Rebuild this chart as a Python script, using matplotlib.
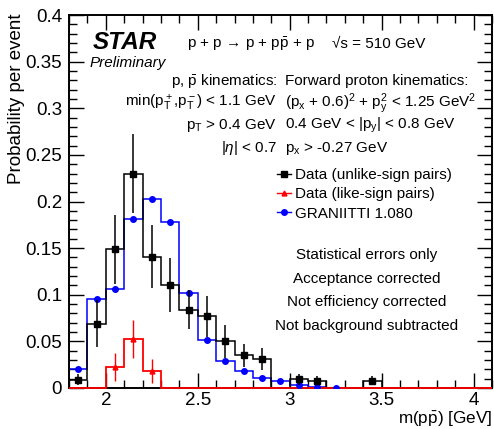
import numpy as np
import matplotlib
matplotlib.use("Agg")
import matplotlib.pyplot as plt
from matplotlib.lines import Line2D

plt.rcParams['font.family'] = ['Liberation Sans', 'DejaVu Sans']
plt.rcParams['mathtext.fontset'] = 'custom'
plt.rcParams['mathtext.rm'] = 'Liberation Sans'
plt.rcParams['mathtext.it'] = 'Liberation Sans:italic'
plt.rcParams['mathtext.bf'] = 'Liberation Sans:bold'

# binning: 0.1 GeV bins from 1.8 to 4.1
bin_edges = [1.8, 1.9, 2.0, 2.1, 2.2, 2.3, 2.4, 2.5, 2.6, 2.7, 2.8, 2.9, 3.0,
             3.1, 3.2, 3.3, 3.4, 3.5, 3.6, 3.7, 3.8, 3.9, 4.0, 4.1]

# data, unlike-sign pairs
unlike_vals = [0.009, 0.069, 0.149, 0.230, 0.141, 0.110, 0.084, 0.077, 0.050,
               0.035, 0.031, 0.0, 0.0095, 0.0078, 0.0, 0.0, 0.0078, 0.0, 0.0,
               0.0, 0.0, 0.0, 0.0]
unlike_errs = [0.006, 0.025, 0.037, 0.042, 0.034, 0.029, 0.021, 0.022, 0.018,
               0.012, 0.012, 0.0, 0.006, 0.005, 0.0, 0.0, 0.005, 0.0, 0.0,
               0.0, 0.0, 0.0, 0.0]

# data, like-sign pairs
like_vals = [0.0, 0.0, 0.022, 0.0525, 0.018] + [0.0] * 18
like_errs = [0.0, 0.0, 0.015, 0.020, 0.013] + [0.0] * 18

# GRANIITTI 1.080
gran_vals = [0.020, 0.095, 0.106, 0.181, 0.2025, 0.178, 0.102, 0.051, 0.029,
             0.018, 0.011, 0.007, 0.003, 0.001, 0.0003] + [0.0] * 8

edges = np.array(bin_edges)
centers = 0.5 * (edges[:-1] + edges[1:])

fig = plt.figure(figsize=(4.94, 4.29), dpi=100)
ax = fig.add_axes([69 / 494, 1 - 388 / 429, 423 / 494, 373 / 429])

# helpers to place text in axes fraction from picture pixel positions
def fx(x):
    return (x - 69) / 423.0

def fy(y):
    return (388 - y) / 373.0

blue = '#0000ff'
red = '#ff0000'

ax.stairs(gran_vals, edges, color=blue, lw=1.1, zorder=2)
ax.stairs(unlike_vals, edges, color='black', lw=1.1, zorder=3)
ax.stairs(like_vals, edges, color=red, lw=1.3, zorder=4, clip_on=False)

g = np.array(gran_vals)
gmask = np.arange(len(g)) < 15
ax.errorbar(centers[gmask], g[gmask], fmt='o', color=blue, ms=4,
            lw=1.0, zorder=5)

u = np.array(unlike_vals)
ue = np.array(unlike_errs)
umask = u > 0
ax.errorbar(centers[umask], u[umask], yerr=ue[umask], fmt='s',
            color='black', ms=5, lw=1.1, capsize=0, zorder=6)

l = np.array(like_vals)
le = np.array(like_errs)
lmask = l > 0
ax.errorbar(centers[lmask], l[lmask], yerr=le[lmask], fmt='^',
            color=red, ms=3.5, lw=1.0, capsize=0, zorder=7)

ax.set_xlim(1.8, 4.1)
ax.set_ylim(0, 0.4)
ax.set_xticks([2, 2.5, 3, 3.5, 4])
ax.set_xticklabels(['2', '2.5', '3', '3.5', '4'])
ax.set_xticks(np.arange(1.8, 4.1001, 0.1), minor=True)
ax.set_yticks([0, 0.05, 0.1, 0.15, 0.2, 0.25, 0.3, 0.35, 0.4])
ax.set_yticklabels(['0', '0.05', '0.1', '0.15', '0.2', '0.25', '0.3', '0.35', '0.4'])
ax.set_yticks(np.arange(0, 0.4001, 0.01), minor=True)
ax.tick_params(which='both', direction='in', top=True, right=True,
               labelsize=13.5, width=1.0)
ax.tick_params(which='major', length=11, pad=5)
ax.tick_params(axis='x', which='major', pad=3)
ax.tick_params(which='minor', length=5.5)
for s in ax.spines.values():
    s.set_linewidth(1.4)

ax.set_ylabel('Probability per event', fontsize=13.5, loc='top')
ax.yaxis.set_label_coords(fx(25), fy(13))
ax.set_xlabel(r'm(p$\mathrm{\bar{p}}$) [GeV]', fontsize=12.3, loc='right')
ax.xaxis.set_label_coords(fx(492), fy(410))

# header texts
ax.text(fx(93), fy(49), 'STAR', transform=ax.transAxes, fontsize=17.5,
        fontweight='bold', fontstyle='italic', va='baseline')
ax.text(fx(90), fy(67), 'Preliminary', transform=ax.transAxes, fontsize=11,
        fontstyle='italic', va='baseline')
ax.text(fx(187), fy(48), 'p + p \u2192 p + p$\\mathrm{\\bar{p}}$ + p',
        transform=ax.transAxes, fontsize=11, va='baseline')
ax.text(fx(332), fy(48), '\u221as = 510 GeV', transform=ax.transAxes,
        fontsize=11, va='baseline')

left_rows = [r'p, $\mathrm{\bar{p}}$ kinematics:',
             r'min(p$_\mathrm{T}^+$,p$_\mathrm{T}^-$) < 1.1 GeV',
             r'p$_\mathrm{T}$ > 0.4 GeV',
             r'|$\eta$| < 0.7']
right_rows = ['Forward proton kinematics:',
              r'(p$_\mathrm{x}$ + 0.6)$^2$ + p$_\mathrm{y}^2$ < 1.25 GeV$^2$',
              r'0.4 GeV < |p$_\mathrm{y}$| < 0.8 GeV',
              r'p$_\mathrm{x}$ > -0.27 GeV']
baselines = [85, 107, 129, 152]
for txt, b in zip(left_rows, baselines):
    ax.text(fx(277), fy(b), txt, transform=ax.transAxes, fontsize=11,
            ha='right', va='baseline')
for txt, b in zip(right_rows, baselines):
    ax.text(fx(285), fy(b), txt, transform=ax.transAxes, fontsize=11,
            ha='left', va='baseline')

handles = [Line2D([], [], color='black', marker='s', ms=5, lw=1.0),
           Line2D([], [], color=red, marker='^', ms=3.5, lw=1.0),
           Line2D([], [], color=blue, marker='o', ms=4, lw=1.0)]
ax.legend(handles,
          ['Data (unlike-sign pairs)', 'Data (like-sign pairs)',
           'GRANIITTI 1.080'],
          loc='upper left', bbox_to_anchor=(fx(274), fy(165)),
          frameon=False, fontsize=11, handlelength=0.9,
          handletextpad=0.25, labelspacing=0.35, borderpad=0.2,
          borderaxespad=0)

notes = ['Statistical errors only', 'Acceptance corrected',
         'Not efficiency corrected', 'Not background subtracted']
for txt, c in zip(notes, [255, 279, 302, 326]):
    ax.text(fx(367), fy(c), txt, transform=ax.transAxes, fontsize=11,
            ha='center', va='center')

fig.savefig('out.png', dpi=100)
